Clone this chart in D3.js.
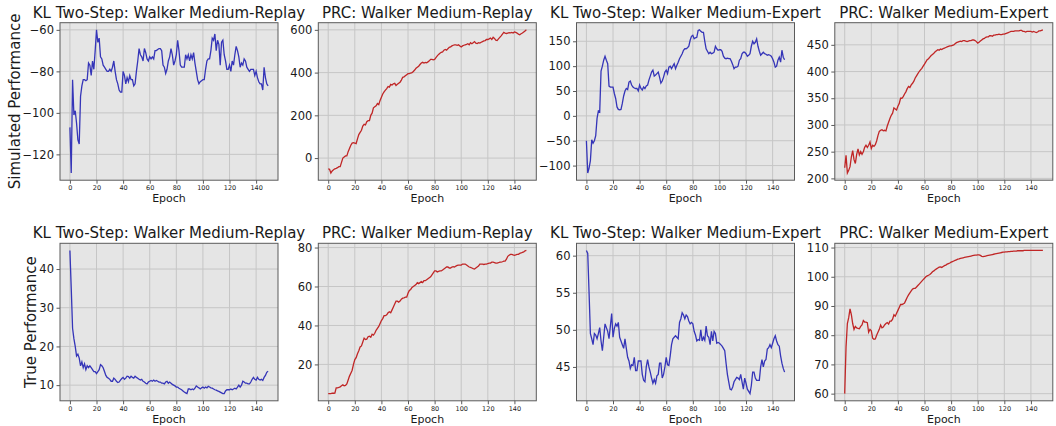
<!DOCTYPE html>
<meta charset="utf-8">
<style>
  body { margin: 0; background: #fff; }
  text { font-family: "DejaVu Sans", sans-serif; fill: #1a1a1a; }
</style>
<svg width="1056" height="426"></svg>
<script src="https://cdn.jsdelivr.net/npm/d3@7/dist/d3.min.js"></script>
<script>
	var epochs = d3.range(150);

	var klSimReplay = [-107,-129,-84,-101,-99,-105,-113,-115,-92,-87,-84,-84,-84.5,-84,-76,-77,-82,-75,-79,-70,
		-60,-66,-64,-73,-74,-77,-78,-79,-80,-80,-79,-80,-78,-75,-80,-84,-86,-89,-90,-90,
		-80,-82,-86,-83,-85,-82,-84,-84,-87,-86,-80,-75,-69,-72,-73,-75,-69,-71,-74,-75,
		-73,-74,-73,-74,-70,-70,-69.5,-69,-69,-70,-77,-78,-81,-79,-75,-73,-69,-72,-77,-75,
		-72,-65,-70,-77,-78,-78,-78,-72,-74,-72,-75,-72,-74,-71,-76,-80,-84,-86,-85,-84.5,
		-84,-84,-79,-75,-74,-74,-70,-64,-65,-62,-70,-65,-67,-77,-66,-65,-72,-75,-79,-79,
		-77,-80,-75,-77,-72,-68,-70,-73,-78,-76,-77,-74,-75,-78,-79,-80,-79,-79,-79,-82,
		-80,-83,-85,-86,-86,-89,-78,-83,-86,-87];

	var prcSimReplay = [-50,-52,-70,-60,-55,-50,-48,-45,-40,-40,-20,0,5,10,10,30,45,60,70,72,
		70,68,90,110,120,130,150,158,155,170,175,175,200,210,235,240,245,255,250,270,
		285,300,310,318,325,335,332,345,342,348,350,340,345,350,355,365,378,380,385,390,
		395,395,398,400,405,412,420,425,430,438,445,448,445,448,446,450,455,462,462,460,
		462,470,478,485,490,495,497,505,508,505,512,518,520,525,528,530,530,528,530,525,
		520,525,528,530,532,535,530,540,535,540,545,538,536,540,538,542,545,548,550,555,
		555,558,562,555,565,560,552,550,558,565,572,580,588,585,583,585,587,586,588,585,
		590,588,585,580,577,582,585,590,595,600];

	var klSimExpert = [-50,-115,-105,-90,-48,-55,-50,-40,-5,10,8,90,100,112,120,112,105,60,58,58,
		58,45,35,18,13,12,13,25,40,50,55,53,68,70,62,58,56,55,55,50,
		62,55,52,58,55,60,62,72,80,88,92,80,82,85,88,78,66,70,78,88,
		92,85,98,100,95,100,105,95,102,108,115,120,125,132,135,135,137,140,152,160,
		162,155,157,158,172,173,170,168,168,150,135,130,125,128,125,126,128,140,135,132,
		133,133,130,120,116,115,116,115,115,110,103,95,98,98,100,112,115,125,128,128,
		125,120,122,125,140,150,145,148,155,140,130,122,125,128,125,124,122,123,122,120,
		115,108,98,100,112,118,108,132,118,113];

	var prcSimExpert = [220,243,210,215,222,240,252,235,228,245,255,244,250,245,250,258,262,258,262,268,
		256,262,260,263,270,280,288,290,291,289,290,289,298,305,312,318,322,332,330,328,
		335,340,350,350,353,358,362,368,372,370,375,378,382,388,392,396,400,403,406,410,
		414,418,422,424,427,430,432,434,437,439,441,440,442,441,443,444,445,446,447,448,
		448,449,450,452,454,455,456,457,456,458,458,457,456,457,458,458,459,459,458,456,
		453,455,457,459,461,462,464,465,465,467,467,466,468,468,469,469,470,469,469,470,
		470,471,472,473,474,475,475,475,476,476,476,476,477,477,475,475,474,475,475,475,
		475,474,475,474,473,474,476,476,477,478];

	var klTrueReplay = [44.8,35,24.7,22,20,17.5,18,17,15,16,14.5,15.5,14,15,14.5,15,14.5,14,13.5,13.5,
		13,13.5,14,15.3,15,14.5,13.5,12.5,12,11.8,11.5,11,11,11.8,11.5,11,10.7,10.8,11.3,11.7,
		12,11.5,11.8,12.3,12.2,11.8,12.3,12,11.8,12.3,12,11.8,11.5,11.3,11.5,11,10.8,10.5,10.3,10.8,
		11,11.2,11,11.3,11,11.2,11,10.8,10.8,10.5,10.5,10.3,10.8,11,10.5,10.8,10.5,10.2,10,9.8,
		9.5,9.5,9.2,9,8.8,8.5,8.2,8,7.8,9,9,8.8,9,8.8,9.2,9.8,9.5,9.3,9,9.3,
		9.5,9.2,9.5,9.3,9.7,9.5,9.3,9.2,9,8.8,8.7,8.5,8.4,8.2,8,7.8,7.8,8.5,8.8,8.8,
		8.8,9,8.8,9,9.2,9,9.5,10,9.5,10,11,10.8,10.5,10.5,10.3,10.3,10.8,11.5,12,11.5,
		11.3,12,11.5,11.3,11.5,11.2,12,12.5,13.3,13.6];

	var prcTrueReplay = [5,5,5,5.2,5.2,5.3,8,8,8.2,8.5,9,9.5,9,9.2,10,12,14,15.5,17,20,
		22.5,23.5,25.5,27,29,29.5,31.5,33.5,32.8,33,34.2,34.5,34,35.5,35,36,37.5,38.5,39.5,41,
		42.5,43.5,45,45,45.5,46.5,47,46.5,48,49.5,51,52.5,52.5,52,52.5,53.5,54,54.2,54.5,54.5,
		56.5,58,58.5,59.5,60,60.5,61,62,61.5,62,62.5,62,63,63,63.5,64,64.5,65,66,67,
		68,68,67.5,67.8,68,68,68.5,69,69.5,70,70,69.5,69.5,70,70.2,70,70.5,70.8,71,71,
		71,71.5,71.5,71.5,71,70.5,70,69.8,69.5,69.2,69,69.5,70,70.5,71.5,71.5,71.5,71.3,71.5,71.5,
		71.8,72,72,72.5,72.5,72.3,72,72,72.2,72.5,72.5,72.7,73,73,74,75.5,76,76.5,76.5,76.2,
		76,76.2,76.5,76.5,77,77.2,77.5,77.8,78.3,78.5];

	var klTrueExpert = [60.7,60.3,55,49.5,48.8,48,49.5,49.3,48.8,49.5,50.3,48.5,47.2,49,50.8,50.3,49.8,48.8,50.5,52.2,
		49,50.2,50.8,50.5,51,49,48.5,48,47.5,48.8,47.5,46.3,45.8,44.8,45.3,45.2,46.3,44.5,44.5,45.8,
		45.8,45.8,44,43.2,43,45,46,45,44.3,43.5,42.8,43.3,42.8,43.8,44,45.5,45.5,43.5,44,45,
		46.3,45.3,45.2,46.5,48,48.8,49,49.2,49,48.8,51,51.5,52.3,52,51.5,52,51.8,51.2,50.8,51,
		50.8,49.8,49.3,48.5,48.7,48.6,50,48.5,49,48.6,50.5,49.2,49,48,49.8,48.5,49.8,49.5,48.2,48.3,
		48.2,48,47.8,47.5,47.2,45.5,44,43,42,41.9,42.3,43,43.3,43.6,43.5,43.3,44,43,42,43.5,
		42.8,42,41.7,41.4,42.5,44.3,44.3,43.5,43.2,43.2,43.2,45,46,45,45.8,46,47.4,47.6,48,47.6,
		48.2,48.8,49.2,48.5,48,47.8,46.5,45.5,44.8,44.3];

	var prcTrueExpert = [60,76,84,86,89,87,84,82,83,82.5,82.3,82.2,83,83.5,85,84.5,84.5,84.3,81,82,
		81.5,79,78.6,78.7,80,81,82,83.5,82.5,82.8,83.5,84,84.3,83.8,84.8,84.8,85.5,87,86.5,87.5,
		88.5,89.5,90.5,90.5,90.7,91,92,93,93.8,94.5,95.2,95.8,96,96,96.5,97,97.5,98,98.5,99,
		99.5,100,100.3,100.5,100.8,101.2,101.7,102,102.4,102.7,103,103.3,103.4,103.2,103.5,103.8,104,104.3,104.5,104.7,
		105,105.2,105.4,105.6,105.8,106,106.1,106.3,106.4,106.5,106.6,106.7,106.8,106.9,107,107.1,107.2,107.3,107.4,107.4,
		107.5,107.5,107.3,107,106.9,107,107.1,107.2,107.3,107.4,107.5,107.6,107.7,107.8,107.9,108,108.1,108.2,108.3,108.4,
		108.4,108.5,108.5,108.6,108.6,108.7,108.7,108.8,108.8,108.8,108.9,108.9,108.9,108.9,108.9,109,109,109,109,109,
		109,109,109,109,109,109,109,109,109,109];

	var xTicks = [0, 20, 40, 60, 80, 100, 120, 140];

	var panels = [
		{title: "KL Two-Step: Walker Medium-Replay", values: klSimReplay, color: "#3535b8", ticks: [-120, -100, -80, -60]},
		{title: "PRC: Walker Medium-Replay", values: prcSimReplay, color: "#c02626", ticks: [0, 200, 400, 600]},
		{title: "KL Two-Step: Walker Medium-Expert", values: klSimExpert, color: "#3535b8", ticks: [-100, -50, 0, 50, 100, 150]},
		{title: "PRC: Walker Medium-Expert", values: prcSimExpert, color: "#c02626", ticks: [200, 250, 300, 350, 400, 450]},
		{title: "KL Two-Step: Walker Medium-Replay", values: klTrueReplay, color: "#3535b8", ticks: [10, 20, 30, 40]},
		{title: "PRC: Walker Medium-Replay", values: prcTrueReplay, color: "#c02626", ticks: [20, 40, 60, 80]},
		{title: "KL Two-Step: Walker Medium-Expert", values: klTrueExpert, color: "#3535b8", ticks: [45, 50, 55, 60]},
		{title: "PRC: Walker Medium-Expert", values: prcTrueExpert, color: "#c02626", ticks: [60, 70, 80, 90, 100, 110]}
	];
	var rowLabels = ["Simulated Performance", "True Performance"];

	var svg = d3.select("svg");
	var colLeft = [60, 318.3, 576.5, 834.8],
			pw = 218,
			rowTop = [22.7, 243.3],
			ph = 157.5;

	var fmt = function(d) { return d < 0 ? "\u2212" + Math.abs(d) : String(d); };

	panels.forEach(function(p, i) {
		var col = i % 4, row = Math.floor(i / 4);
		var g = svg.append("g").attr("transform", "translate(" + colLeft[col] + "," + rowTop[row] + ")");

		var ext = d3.extent(p.values), pad = (ext[1] - ext[0]) * 0.05;
		var x = d3.scaleLinear().domain([-7.45, 156.45]).range([0, pw]);
		var y = d3.scaleLinear().domain([ext[0] - pad, ext[1] + pad]).range([ph, 0]);

		g.append("rect").attr("width", pw).attr("height", ph).attr("fill", "#e5e5e5");

		// grid
		g.selectAll(".gx").data(xTicks).enter().append("line")
			.attr("x1", x).attr("x2", x).attr("y1", 0).attr("y2", ph)
			.attr("stroke", "#c6c6c6").attr("stroke-width", 1);
		g.selectAll(".gy").data(p.ticks).enter().append("line")
			.attr("y1", y).attr("y2", y).attr("x1", 0).attr("x2", pw)
			.attr("stroke", "#c6c6c6").attr("stroke-width", 1);

		g.append("path")
			.datum(p.values)
			.attr("fill", "none")
			.attr("stroke", p.color)
			.attr("stroke-width", 1.3)
			.attr("d", d3.line().x(function(d, j) { return x(epochs[j]); }).y(function(d) { return y(d); }));

		g.append("rect").attr("width", pw).attr("height", ph)
			.attr("fill", "none").attr("stroke", "#5a5a5a").attr("stroke-width", 1);

		var xa = g.append("g").attr("transform", "translate(0," + ph + ")")
			.call(d3.axisBottom(x).tickValues(xTicks).tickSize(3.5).tickPadding(2));
		xa.select(".domain").remove();
		xa.selectAll("line").attr("stroke", "#5a5a5a");
		xa.selectAll("text").style("font-size", "6.5px").attr("fill", "#333");

		var ya = g.append("g")
			.call(d3.axisLeft(y).tickValues(p.ticks).tickFormat(fmt).tickSize(3.5).tickPadding(2.5));
		ya.select(".domain").remove();
		ya.selectAll("line").attr("stroke", "#5a5a5a");
		ya.selectAll("text").style("font-size", "11.5px").attr("fill", "#1a1a1a");

		g.append("text").attr("x", pw / 2).attr("y", ph + 22)
			.attr("text-anchor", "middle").style("font-size", "11px").text("Epoch");

		g.append("text").attr("x", pw / 2).attr("y", -5)
			.attr("text-anchor", "middle").style("font-size", "15px").text(p.title);

		if (col === 0) {
			var lx = row === 0 ? -40 : -24;
			g.append("text")
				.attr("transform", "translate(" + lx + "," + ph / 2 + ") rotate(-90)")
				.attr("text-anchor", "middle").style("font-size", "15px").text(rowLabels[row]);
		}
	});
</script>
